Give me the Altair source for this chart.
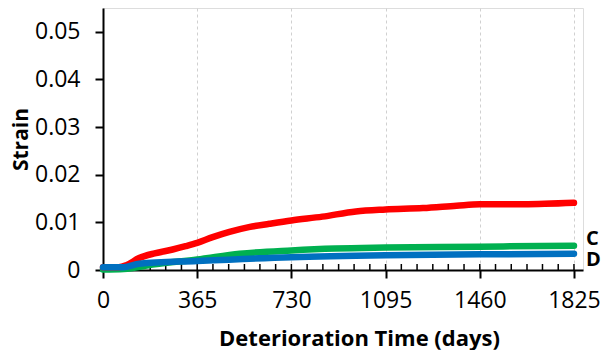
import altair as alt
import pandas as pd

# Series data (days, strain)
red_days = [0, 60, 90, 140, 200, 270, 320, 365, 425, 490, 565, 645, 730, 850, 980, 1095, 1240, 1370, 1460, 1630, 1825]
red_vals = [0.0006, 0.0006, 0.0010, 0.0025, 0.0035, 0.0043, 0.0050, 0.0057, 0.0069, 0.0080, 0.0090, 0.0097, 0.0104, 0.0112, 0.0123, 0.0127, 0.0130, 0.0135, 0.0138, 0.0138, 0.0141]

green_days = [0, 80, 200, 365, 530, 730, 900, 1095, 1460, 1825]
green_vals = [0.0001, 0.0002, 0.0012, 0.0022, 0.0034, 0.0041, 0.0045, 0.0047, 0.0049, 0.0051]

blue_days = [0, 80, 140, 365, 730, 1095, 1460, 1825]
blue_vals = [0.0006, 0.0006, 0.0013, 0.0019, 0.0027, 0.0031, 0.0033, 0.0034]

series_names = ["Green", "Red", "Blue"]
series_colors = ["#00B050", "#FF0000", "#0070C0"]

x_ticks = [0, 365, 730, 1095, 1460, 1825]
y_ticks = [0, 0.01, 0.02, 0.03, 0.04, 0.05]
minor_ticks = [0, 61, 122, 183, 243, 304, 365, 426, 487, 548, 608, 669, 730, 791, 852, 913, 973,
               1034, 1095, 1156, 1217, 1278, 1338, 1399, 1460, 1521, 1582, 1643, 1703, 1764, 1825]

label_text = ["C", "D"]
label_vals = [0.0066, 0.0022]

rows = []
for name, days, vals in [("Green", green_days, green_vals), ("Red", red_days, red_vals), ("Blue", blue_days, blue_vals)]:
    for d, v in zip(days, vals):
        rows.append({"series": name, "day": d, "strain": v})
df = pd.DataFrame(rows)

W, H = 480, 262
FONT = "Open Sans"

xscale = alt.Scale(domain=[0, 1860], nice=False, zero=False)
yscale = alt.Scale(domain=[0, 0.055], nice=False)

lines = alt.Chart(df).mark_line(strokeWidth=6.5, strokeCap="round", interpolate="monotone").encode(
    x=alt.X("day:Q", scale=xscale,
            axis=alt.Axis(values=x_ticks, format="d", title="Deterioration Time (days)", grid=True,
                          gridDash=[3, 3], gridColor="#d0d0d0", gridWidth=1,
                          domainColor="black", domainWidth=2, tickColor="black", tickWidth=2,
                          tickSize=8, labelFontSize=23, labelFont=FONT, labelColor="black",
                          labelPadding=11, titleFont=FONT, titleFontSize=22, titleFontWeight="bold",
                          titleColor="black", titleX=256, titleY=68, titleBaseline="middle",
                          labelFlush=False)),
    y=alt.Y("strain:Q", scale=yscale,
            axis=alt.Axis(values=y_ticks, title="Strain", grid=False,
                          labelExpr="datum.value == 0 ? '0' : format(datum.value, '.2f')",
                          domainColor="black", domainWidth=2, tickColor="black", tickWidth=2,
                          tickSize=8, labelFontSize=23, labelFont=FONT, labelColor="black",
                          labelPadding=15, titleFont=FONT, titleFontSize=21, titleFontWeight="bold",
                          titleColor="black", titleAngle=270, titleX=-82, titleY=131,
                          titleAlign="center", titleBaseline="middle")),
    color=alt.Color("series:N", scale=alt.Scale(domain=series_names, range=series_colors), legend=None),
    order=alt.Order("day:Q"),
)

minor = alt.Chart(pd.DataFrame({"day": minor_ticks})).mark_rule(color="black", strokeWidth=1.5).encode(
    x=alt.X("day:Q", scale=xscale),
    y=alt.value(H),
    y2=alt.value(H - 6),
)

labels = alt.Chart(pd.DataFrame({"t": label_text, "v": label_vals})).mark_text(
    align="left", baseline="middle", fontSize=20, fontWeight="bold", font=FONT, color="black"
).encode(
    x=alt.value(W + 3),
    y=alt.Y("v:Q", scale=yscale),
    text="t:N",
)

chart = alt.layer(minor, lines, labels).properties(
    width=W, height=H,
    autosize=alt.AutoSizeParams(type="none"),
    padding={"left": 95, "top": 0, "right": 18, "bottom": 80},
).configure_view(stroke="black", strokeWidth=2).configure(background="white")

chart.save("out.html", embed_options={"renderer": "svg", "actions": False})
